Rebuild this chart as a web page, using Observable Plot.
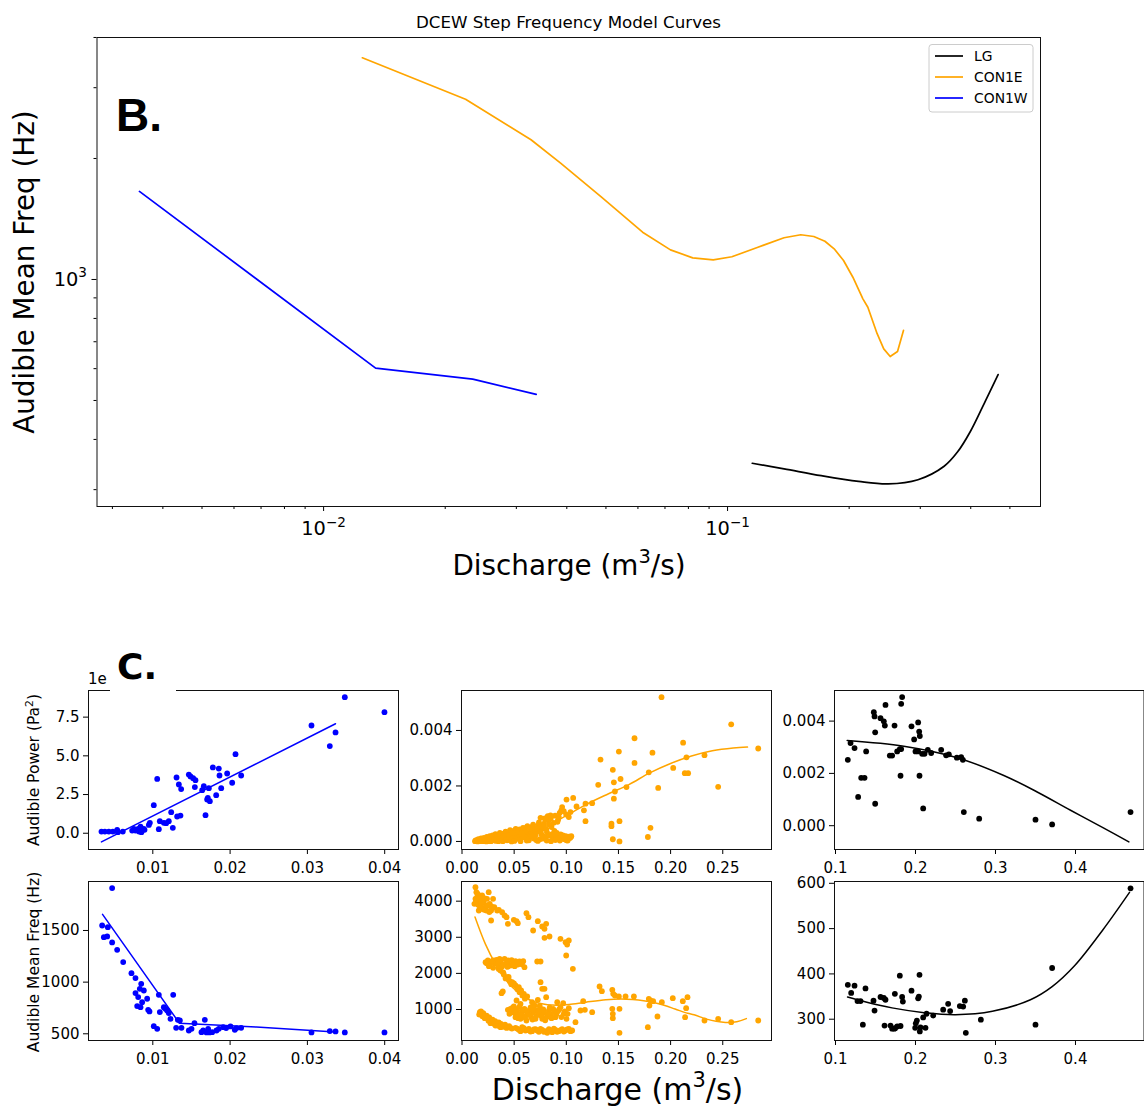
<!DOCTYPE html>
<html><head><meta charset="utf-8">
<script src="https://cdn.jsdelivr.net/npm/d3@7"></script>
<script src="https://cdn.jsdelivr.net/npm/@observablehq/plot@0.6"></script>
<style>
body{margin:0;background:#fff;}
#root{position:relative;width:1144px;height:1108px;overflow:hidden;background:#fff;}
</style></head><body><div id="root"></div>
<script>
// ---------------- text ----------------
const titleText = "DCEW Step Frequency Model Curves";
const seriesNames = ["LG", "CON1E", "CON1W"];
const seriesColors = ["black", "orange", "blue"];

// ---------------- model curves (discharge m3/s, value) ----------------
const conwFreqModel = [[0.0035,1656],[0.01345,602],[0.0234,565],[0.0336,518]];
const con1eFreqModel = [[0.01247,3561],[0.02246,2809],[0.03262,2226],[0.03861,1947],[0.04875,1602],[0.06162,1311],[0.07223,1185],[0.08199,1132],[0.09218,1119],[0.1025,1139],[0.1189,1203],[0.138,1270],[0.1518,1292],[0.1635,1279],[0.1742,1245],[0.1836,1192],[0.1937,1115],[0.2043,1013],[0.2163,895],[0.2225,853],[0.2346,733],[0.2436,672],[0.2527,643],[0.2635,662],[0.2726,747]];
const lgFreqModel = [[0.1151,349],[0.138,338],[0.1706,325],[0.211,314.5],[0.2499,310],[0.2961,317.5],[0.3437,343],[0.3708,372],[0.3988,418],[0.4341,497],[0.4675,580]];
const conwPowerModel = [[0.00336,-0.56],[0.03364,7.07]];
const con1ePowerModel = [[0.012,-0.00001],[0.03,0.00004],[0.05,0.00016],[0.065,0.00032],[0.08,0.00054],[0.1,0.00093],[0.12,0.00135],[0.14,0.00171],[0.16,0.00205],[0.18,0.00247],[0.2,0.00281],[0.22,0.00308],[0.24,0.00327],[0.26,0.00337],[0.2737,0.0034]];
const lgPowerModel = [[0.1146,0.00326],[0.1854,0.00304],[0.2521,0.0026],[0.3104,0.00192],[0.3521,0.00129],[0.3938,0.00059],[0.4354,-0.00009],[0.4667,-0.00062]];

// ---------------- observations ----------------
const conwPower = [[0.00336,0.11],[0.0038,0.11],[0.00431,0.11],[0.00483,0.11],[0.00539,0.22],[0.00548,0.07],[0.00612,0.11],[0.00733,0.17],[0.00755,0.28],[0.00776,0.17],[0.00811,0.28],[0.00822,0.11],[0.00841,0.43],[0.00853,0.07],[0.00884,0.28],[0.00893,0.22],[0.00949,0.54],[0.00962,0.67],[0.01013,1.81],[0.01057,3.51],[0.01078,0.26],[0.01091,0.78],[0.01143,0.67],[0.01173,0.65],[0.01207,0.78],[0.01238,1.36],[0.01259,0.35],[0.01307,3.6],[0.01315,1.08],[0.01337,3.15],[0.01358,1.14],[0.01367,2.85],[0.01466,3.79],[0.01488,3.67],[0.01522,3.56],[0.01552,3.43],[0.01544,2.98],[0.01639,2.78],[0.0166,3.04],[0.01682,1.17],[0.01703,2.18],[0.01712,2.29],[0.01725,2.91],[0.01738,2.07],[0.01777,4.25],[0.0182,2.46],[0.01854,4.18],[0.01863,3.73],[0.01885,2.91],[0.01962,3.86],[0.02027,3.26],[0.0207,5.11],[0.02143,3.73],[0.03053,6.96],[0.0329,5.63],[0.03364,6.51],[0.03484,8.79],[0.03997,7.82]];

const conwFreq = [[0.00345,1548],[0.00418,1532],[0.00367,1435],[0.0041,1442],[0.00474,1910],[0.00474,1384],[0.00539,1313],[0.00617,1194],[0.00724,1087],[0.00776,1039],[0.00776,894],[0.00798,768],[0.00811,855],[0.00832,935],[0.00841,758],[0.0085,984],[0.00862,806],[0.00884,919],[0.00927,839],[0.0094,732],[0.00957,716],[0.01013,574],[0.01057,548],[0.01078,877],[0.01091,710],[0.01143,758],[0.01164,742],[0.01186,726],[0.01207,700],[0.01229,645],[0.01264,877],[0.01302,558],[0.01324,635],[0.0135,629],[0.01371,558],[0.01466,532],[0.01501,548],[0.01539,603],[0.0163,516],[0.01652,532],[0.01673,635],[0.01695,513],[0.01716,548],[0.01734,513],[0.01768,516],[0.01824,532],[0.01854,548],[0.01911,564],[0.01949,555],[0.02005,571],[0.02061,539],[0.02083,555],[0.02143,558],[0.03053,513],[0.0329,526],[0.03364,523],[0.03484,513],[0.03997,513]];

const con1ePowerUpper = [[0.1913,0.0052],[0.2581,0.00422],[0.284,0.00335],[0.1654,0.00372],[0.212,0.00356],[0.1504,0.00324],[0.1328,0.00295],[0.1826,0.0032],[0.1654,0.00283],[0.2325,0.00311],[0.2152,0.00303],[0.1446,0.00258],[0.1791,0.00249],[0.2025,0.00265],[0.2136,0.00246],[0.2168,0.00246],[0.152,0.00225],[0.1456,0.00213],[0.1577,0.00196],[0.1306,0.00204],[0.1881,0.00193],[0.2456,0.00197],[0.1466,0.0018],[0.1456,0.00154],[0.1248,0.00138],[0.1184,0.00136],[0.1169,0.00112],[0.1066,0.00157],[0.1002,0.00151],[0.1098,0.00126],[0.096,0.00124],[0.0976,0.00109],[0.104,0.00106],[0.1024,0.00088],[0.0928,0.00088],[0.0849,0.00094],[0.0753,0.00085],[0.0801,0.00078],[0.1184,0.00073],[0.1433,0.00064],[0.1433,0.00055],[0.151,0.00073],[0.1807,0.00049],[0.1782,0.00016],[0.1446,0.00008],[0.151,0.0]];
const con1ePowerCluster = [[0.0125,0.00001],[0.0138,0.00003],[0.0151,0.0],[0.0163,0.00004],[0.0177,0.00002],[0.0189,0.00006],[0.0202,0.00001],[0.0216,0.00005],[0.0229,0.00008],[0.0243,0.00003],[0.0258,0.00011],[0.0271,0.00004],[0.0287,0.00015],[0.0299,0.00007],[0.0312,0.00019],[0.0326,0.00002],[0.0341,0.00012],[0.0355,0.00024],[0.0369,0.00006],[0.0384,0.00017],[0.0398,0.00028],[0.0412,0.00009],[0.0427,0.00021],[0.0441,0.00033],[0.0455,0.00005],[0.0468,0.00014],[0.0482,0.00026],[0.0497,0.00038],[0.0511,0.00008],[0.0524,0.00019],[0.0538,0.00031],[0.0552,0.00043],[0.0566,0.00012],[0.0579,0.00024],[0.0593,0.00036],[0.0607,0.00048],[0.0621,0.00003],[0.0634,0.00017],[0.0648,0.00029],[0.0662,0.00041],[0.0676,0.00053],[0.0689,0.00011],[0.0703,0.00022],[0.0717,0.00037],[0.0731,0.00058],[0.0745,0.00008],[0.0759,0.00027],[0.0773,0.00046],[0.0787,0.00064],[0.0801,0.00015],[0.0815,0.00033],[0.0829,0.00076],[0.0843,0.00021],[0.0858,0.00052],[0.0872,0.00009],[0.0886,0.00038],[0.0901,0.00018],[0.0915,0.00071],[0.093,0.00012],[0.0946,0.00025],[0.0961,0.00016],[0.0978,0.00009],[0.0995,0.00019],[0.101,0.00014],[0.1027,0.00017],[0.1043,0.00016],
[0.0148,0.00006],[0.0195,0.00009],[0.0233,0.0],[0.0262,0.00001],[0.0305,0.0001],[0.0348,0.00003],[0.0392,0.00001],[0.0436,0.00016],[0.0475,0.0],[0.0517,0.00028],[0.0561,0.00001],[0.0603,0.00022],[0.0641,0.00004],[0.0684,0.00033],[0.0727,0.00002],[0.0768,0.0001],[0.0812,0.00003],[0.0853,0.00001],[0.0895,0.00005],[0.0938,0.00003],[0.1002,0.00004],
[0.0131,0.00004],[0.0144,0.00002],[0.0157,0.00008],[0.0171,0.00001],[0.0183,0.00011],[0.0198,0.00003],[0.0211,0.00013],[0.0224,0.00002],[0.0238,0.00016],[0.0251,0.00007],[0.0266,0.00019],[0.0279,0.00001],[0.0293,0.00022],[0.0307,0.00005],[0.0321,0.00026],[0.0336,0.00014],[0.0351,0.00001],[0.0363,0.00031],[0.0377,0.00011],[0.0389,0.00003],[0.0403,0.00019],[0.0418,0.00035],[0.0432,0.00004],[0.0447,0.00024],[0.0461,0.00041],[0.0473,0.00009],[0.0488,0.00031],[0.0502,0.00002],[0.0515,0.00045],[0.0529,0.00013],[0.0544,0.00036],[0.0557,0.00006],[0.0571,0.00029],[0.0585,0.00049],[0.0598,0.00015],[0.0612,0.00034],[0.0627,0.00055],[0.0639,0.00009],[0.0655,0.00047],[0.0669,0.00019],[0.0682,0.00061],[0.0696,0.00042],[0.0711,0.00005],[0.0724,0.00049],[0.0738,0.00069],[0.0752,0.00036],[0.0766,0.00057],[0.0779,0.00019],[0.0794,0.00083],[0.0808,0.00044],[0.0822,0.00091],[0.0836,0.00061],[0.0851,0.00083],[0.0865,0.00026],[0.0879,0.00067],[0.0893,0.00093],[0.0908,0.00031],[0.0922,0.00079],[0.0937,0.00103],[0.0952,0.00112],[0.0968,0.00022],[0.0984,0.00008],[0.0999,0.00097],[0.1013,0.00003],[0.1035,0.00012],[0.1048,0.00019]];

const con1eFreqTop = [[0.0129,4388],[0.0138,4249],[0.0119,3926],[0.0145,4111],[0.0161,4018],[0.0177,3880],[0.0193,4157],[0.0208,3972],[0.0224,3834],[0.024,4065],[0.0256,4249],[0.0266,3926],[0.0279,3742],[0.0298,4065],[0.031,3834],[0.0279,3465],[0.0337,3742],[0.0161,3742],[0.0186,3788],[0.0129,4065],[0.0151,4203],[0.0234,3742],[0.0202,4037],[0.0134,3990],[0.0155,3900],[0.0168,4120],[0.0172,3810],[0.0189,3960],[0.0213,3760],[0.0219,4080],[0.0245,3880],[0.0262,3700],[0.0285,3850],
[0.0353,3760],[0.0385,3695],[0.0408,3603],[0.0427,3557],[0.044,3372],[0.0497,3483],[0.0523,3446],[0.0535,3391],[0.0618,3668],[0.0637,3557],[0.0682,3188],[0.0727,3446],[0.0769,3298],[0.0791,3234],[0.0807,3372],[0.0791,2985],[0.0839,3022],[0.0944,2957],[0.0993,2865],[0.1024,2911],[0.1008,2800],[0.0999,2495],[0.1063,2126]];
const con1eFreqMid = [[0.0226,2311],[0.0248,2357],[0.0267,2246],[0.0289,2338],[0.0312,2283],[0.0331,2375],[0.0347,2218],[0.0369,2311],[0.0385,2191],[0.0408,2403],[0.0427,2283],[0.0443,2357],[0.0465,2218],[0.0491,2311],[0.0513,2338],[0.0535,2246],[0.0561,2283],[0.0587,2338],[0.0599,2172],[0.0721,2329],[0.0753,2329],[0.0299,2154],[0.0236,2280],[0.0258,2200],[0.0302,2360],[0.0339,2280],[0.0361,2400],[0.0398,2250],[0.0437,2180],[0.0476,2370],[0.0505,2200],[0.0551,2330],[0.0574,2250],
[0.0369,2080],[0.0401,1969],[0.0433,1895],[0.0458,1785],[0.0481,1757],[0.0513,1665],[0.0545,1618],[0.0567,1526],[0.0593,1434],[0.0625,1360],[0.0753,1757],[0.0769,1572],[0.0791,1572],[0.0807,1342],[0.0379,1452],[0.0523,1249],[0.0352,2120],[0.0395,2030],[0.0418,1860],[0.0447,1900],[0.0472,1700],[0.0498,1720],[0.0531,1560],[0.0552,1480],[0.0579,1390],[0.0603,1300],[0.0391,1500]];
const con1eFreqLow = [[0.0171,926],[0.019,880],[0.021,825],[0.0229,788],[0.0248,741],[0.0267,714],[0.0286,677],[0.0305,640],[0.0325,621],[0.0344,603],[0.0363,584],[0.0382,557],[0.0401,548],[0.042,529],[0.044,511],[0.0465,492],[0.0273,622],[0.0321,557],[0.0369,511],[0.0165,860],[0.0182,950],[0.0196,810],[0.0204,900],[0.0218,760],[0.0236,830],[0.0254,690],[0.0261,780],[0.0279,650],[0.0293,720],[0.0311,600],[0.0318,680],[0.0336,560],[0.0352,640],[0.0357,540],[0.0374,600],[0.0394,520],[0.0413,580],[0.0428,490],[0.0452,540],[0.0478,470],
[0.044,991],[0.0465,1018],[0.0491,926],[0.0513,788],[0.0529,972],[0.0545,861],[0.0561,741],[0.0577,926],[0.0593,806],[0.0599,1018],[0.0618,695],[0.0631,880],[0.065,991],[0.0663,788],[0.0682,926],[0.0695,1111],[0.0705,741],[0.0721,972],[0.0737,861],[0.0753,1018],[0.0769,741],[0.0785,926],[0.081,788],[0.0833,972],[0.0849,861],[0.0874,1018],[0.0896,788],[0.0919,954],[0.0944,1065],[0.097,1175],[0.0976,880],[0.1002,741],[0.1024,1037],[0.0497,1083],[0.0672,1203],[0.0727,1268],[0.0561,1157],[0.0913,1203],[0.0455,880],[0.0472,940],[0.0486,1050],[0.0505,900],[0.0521,1010],[0.0538,760],[0.0552,1080],[0.0569,850],[0.0583,990],[0.0605,780],[0.0622,950],[0.0645,850],[0.0658,1060],[0.0676,720],[0.0689,1000],[0.0711,820],[0.0731,940],[0.0745,1100],[0.0762,820],[0.0779,1000],[0.0798,700],[0.0823,880],[0.0841,1050],[0.0858,760],[0.0882,930],[0.0904,860],[0.0932,1000],[0.0953,790],[0.0985,950],[0.1012,880],
[0.0513,492],[0.0545,437],[0.0577,511],[0.0609,418],[0.0641,465],[0.0672,400],[0.0705,455],[0.0737,381],[0.0769,437],[0.0801,400],[0.0833,455],[0.0865,372],[0.0896,437],[0.0928,400],[0.096,455],[0.0991,418],[0.1024,465],[0.1056,418],[0.0817,354],[0.0529,470],[0.0561,400],[0.0593,480],[0.0625,430],[0.0657,390],[0.0689,450],[0.0721,420],[0.0753,460],[0.0785,380],[0.0849,420],[0.0881,470],[0.0912,380],[0.0944,430],[0.0976,390],[0.1008,450],[0.104,400]];
const con1eFreqRight = [[0.1088,649],[0.1136,972],[0.1162,1231],[0.1178,991],[0.1248,926],[0.1319,1637],[0.1341,1508],[0.1441,1545],[0.145,1434],[0.1466,1388],[0.1504,1360],[0.1568,1360],[0.1648,1360],[0.151,1018],[0.1441,1018],[0.1446,880],[0.1446,760],[0.151,354],[0.1782,511],[0.1791,1295],[0.1807,1249],[0.1833,1231],[0.1797,1111],[0.1874,806],[0.1916,1203],[0.2021,1314],[0.2117,1231],[0.2149,1037],[0.2139,788],[0.2162,1342],[0.2325,695],[0.2456,742],[0.2581,649],[0.284,695]];

const lgPower = [[0.1154,0.00252],[0.1188,0.00316],[0.1238,0.00297],[0.1283,0.0011],[0.1321,0.00183],[0.1363,0.00183],[0.1383,0.00284],[0.1479,0.00434],[0.1488,0.00418],[0.1496,0.00357],[0.1496,0.00084],[0.1563,0.00411],[0.1604,0.00399],[0.1617,0.00383],[0.1625,0.00462],[0.1679,0.00268],[0.1708,0.00268],[0.1738,0.00383],[0.1771,0.00284],[0.1804,0.00293],[0.1813,0.00191],[0.1821,0.00466],[0.1833,0.00492],[0.1821,0.00293],[0.195,0.0038],[0.1983,0.0033],[0.2,0.00284],[0.2033,0.00284],[0.2033,0.00395],[0.2046,0.0036],[0.2054,0.00343],[0.205,0.00191],[0.2083,0.00275],[0.2096,0.00066],[0.2113,0.00275],[0.2154,0.0029],[0.2196,0.00278],[0.2321,0.0029],[0.2383,0.00269],[0.2417,0.00273],[0.2517,0.0026],[0.2571,0.00262],[0.2592,0.00252],[0.2604,0.00052],[0.2796,0.00027],[0.35,0.00023],[0.3708,0.00005],[0.4688,0.00052]];

const lgFreq = [[0.1154,376],[0.1196,358],[0.1238,374],[0.1275,340],[0.1313,340],[0.1342,288],[0.1375,368],[0.1475,341],[0.1488,319],[0.1563,349],[0.1604,347],[0.1625,343],[0.1613,286],[0.1688,286],[0.1708,279],[0.1771,284],[0.1813,285],[0.1733,279],[0.1746,280],[0.1742,356],[0.1804,396],[0.1833,349],[0.1842,339],[0.195,363],[0.1996,281],[0.2004,291],[0.2017,297],[0.2033,346],[0.2042,350],[0.205,398],[0.2054,273],[0.2063,282],[0.2096,304],[0.2125,281],[0.2138,312],[0.2221,308],[0.2346,321],[0.2408,334],[0.2433,318],[0.2554,329],[0.2596,328],[0.2617,341],[0.2629,270],[0.2817,299],[0.35,288],[0.3708,413],[0.4688,589]];

// ---------------- tick values ----------------
const topXMajor = [0.01, 0.1];
const topXMinor = [0.003,0.004,0.005,0.006,0.007,0.008,0.009,0.02,0.03,0.04,0.05,0.06,0.07,0.08,0.09,0.2,0.3,0.4,0.5];
const topYMajor = [1000];
const topYMinor = [300,400,500,600,700,800,900,2000,3000,4000];
const col1X = [0.01,0.02,0.03,0.04];
const col2X = [0,0.05,0.1,0.15,0.2,0.25];
const col3X = [0.1,0.2,0.3,0.4];
const aY = [0,2.5,5,7.5];
const bY = [500,1000,1500];
const cY = [0,0.002,0.004];
const dY = [0,0.002,0.004];
const eY = [1000,2000,3000,4000];
const fY = [300,400,500,600];

// ---------------- drawing ----------------
const root = document.getElementById("root");
const FONT = "DejaVu Sans";
const X = d => d[0], Y = d => d[1];

function panel(o) {
  const {L,R,T,B,ml=62,mr=6,mt=6,mb=34,fs=15,x,y,marks} = o;
  const svg = Plot.plot({
    width: ml + (R-L) + mr,
    height: mt + (B-T) + mb,
    marginLeft: ml, marginRight: mr, marginTop: mt, marginBottom: mb,
    x, y, marks,
    style: {fontFamily: FONT, fontSize: fs + "px", color: "#000", background: "none", overflow: "visible"}
  });
  svg.style.position = "absolute";
  svg.style.left = (L - ml) + "px";
  svg.style.top = (T - mt) + "px";
  svg.style.maxWidth = "none";
  root.appendChild(svg);
  return svg;
}
const ax = (ticks, fmt, size=5, pad=8) => Plot.axisX({ticks, tickFormat: fmt, tickSize: size, tickPadding: pad, label: null});
const ay = (ticks, fmt, size=5, pad=4) => Plot.axisY({ticks, tickFormat: fmt, tickSize: size, tickPadding: pad, label: null});
const frame = () => Plot.frame({stroke: "#111", strokeWidth: 1});
const f2 = d3.format(".2f"), f1 = d3.format(".1f"), f3 = d3.format(".3f"), f0 = d3.format("d");

// Top panel (log-log)
const topSvg = panel({
  L: 96.5, R: 1040, T: 37, B: 506, ml: 96.5, mr: 10, mt: 37, mb: 45, fs: 19.4,
  x: {type: "log", domain: [0.002748, 0.5953]},
  y: {type: "log", domain: [272.4, 3999.5]},
  marks: [
    ax(topXMinor, () => "", 3),
    ax(topXMajor, d => d < 0.05 ? "10^−2" : "10^−1", 5, 10),
    ay(topYMinor, () => "", 3),
    ay(topYMajor, () => "10^3", 5, 5),
    Plot.line(lgFreqModel, {x: X, y: Y, stroke: seriesColors[0], strokeWidth: 1.7, curve: "catmull-rom"}),
    Plot.line(con1eFreqModel, {x: X, y: Y, stroke: seriesColors[1], strokeWidth: 1.7}),
    Plot.line(conwFreqModel, {x: X, y: Y, stroke: seriesColors[2], strokeWidth: 1.7}),
    frame()
  ]
});
d3.select(topSvg).selectAll("text").each(function () {
  const m = /^10\^(.+)$/.exec(this.textContent);
  if (!m) return;
  const s = d3.select(this);
  s.text(null);
  s.append("tspan").text("10");
  s.append("tspan").attr("font-size", "0.7em").attr("dy", "-0.62em").text(m[1]);
});

const col1 = {L: 88, R: 398, domain: [0.001682, 0.041786], ticks: col1X, fmt: f2};
const col2 = {L: 461, R: 771, domain: [-0.00048, 0.29674], ticks: col2X, fmt: f2};
const col3 = {L: 834, R: 1143.5, domain: [0.09875, 0.48563], ticks: col3X, fmt: f1};
const row1 = {T: 690, B: 849}, row2 = {T: 881, B: 1040};

function small(col, row, yDomain, yTicks, yFmt, pts, model, color, curve) {
  panel({
    L: col.L, R: col.R, T: row.T, B: row.B, mr: col.R > 1140 ? 0.5 : 6,
    x: {domain: col.domain}, y: {domain: yDomain},
    marks: [
      ax(col.ticks, col.fmt), ay(yTicks, yFmt),
      Plot.dot(pts, {x: X, y: Y, r: 2.9, fill: color, stroke: "none"}),
      Plot.line(model, {x: X, y: Y, stroke: color, strokeWidth: 1.5, curve}),
      frame()
    ]
  });
}
small(col1, row1, [-1.05, 9.22], aY, f1, conwPower, conwPowerModel, "blue", "linear");
small(col2, row1, [-0.00029, 0.00544], cY, f3, con1ePowerCluster.concat(con1ePowerUpper), con1ePowerModel, "orange", "catmull-rom");
small(col3, row1, [-0.00091, 0.00517], dY, f3, lgPower, lgPowerModel, "black", "catmull-rom");
small(col1, row2, [435, 1974], bY, f0, conwFreq, conwFreqModel, "blue", "linear");
small(col2, row2, [141, 4545], eY, f0, con1eFreqTop.concat(con1eFreqMid, con1eFreqLow, con1eFreqRight), con1eFreqModel, "orange", "catmull-rom");
small(col3, row2, [253, 604], fY, f0, lgFreq, lgFreqModel, "black", "catmull-rom");

// ---------------- annotations overlay ----------------
const ov = d3.select(root).append("svg")
  .attr("width", 1144).attr("height", 1108)
  .style("position", "absolute").style("left", "0px").style("top", "0px")
  .style("font-family", FONT).style("pointer-events", "none");

function rich(t, parts, fs) {
  let prev = false;
  for (const [s, sup] of parts) {
    const ts = t.append("tspan").text(s);
    if (sup) ts.attr("font-size", 0.7 * fs);
    if (sup && !prev) ts.attr("dy", -0.42 * fs);
    if (!sup && prev) ts.attr("dy", 0.42 * fs);
    prev = sup;
  }
  return t;
}

ov.append("text").attr("x", 568.5).attr("y", 28).attr("text-anchor", "middle")
  .attr("font-size", 16.7).attr("fill", "#000").text(titleText);

ov.append("text").attr("transform", "translate(34,272) rotate(-90)").attr("text-anchor", "middle")
  .attr("font-size", 27.8).text("Audible Mean Freq (Hz)");
rich(ov.append("text").attr("x", 569).attr("y", 575).attr("text-anchor", "middle").attr("font-size", 27.8),
  [["Discharge (m", false], ["3", true], ["/s)", false]], 27.8);

ov.append("text").attr("x", 116).attr("y", 131).attr("font-family", "Liberation Sans")
  .attr("font-weight", "bold").attr("font-size", 46).text("B.");

// legend
const lg = ov.append("g");
lg.append("rect").attr("x", 929).attr("y", 44.5).attr("width", 104).attr("height", 67.5).attr("rx", 3)
  .attr("fill", "white").attr("fill-opacity", 0.8).attr("stroke", "#cccccc");
seriesNames.forEach((n, i) => {
  const yy = 56 + i * 21;
  lg.append("line").attr("x1", 935).attr("x2", 963).attr("y1", yy).attr("y2", yy)
    .attr("stroke", seriesColors[i]).attr("stroke-width", 1.7);
  lg.append("text").attr("x", 974).attr("y", yy).attr("dy", "0.36em").attr("font-size", 13.9).text(n);
});

// bottom block labels
ov.append("text").attr("x", 88).attr("y", 684).attr("font-size", 15).text("1e");
ov.append("rect").attr("x", 110).attr("y", 644).attr("width", 66).attr("height", 49).attr("fill", "white");
ov.append("text").attr("x", 117).attr("y", 679).attr("font-family", "DejaVu Sans")
  .attr("font-weight", "bold").attr("font-size", 36).text("C.");

rich(ov.append("text").attr("transform", "translate(39,770) rotate(-90)").attr("text-anchor", "middle").attr("font-size", 15.5),
  [["Audible Power (Pa", false], ["2", true], [")", false]], 15.5);
ov.append("text").attr("transform", "translate(39,962) rotate(-90)").attr("text-anchor", "middle")
  .attr("font-size", 15.5).text("Audible Mean Freq (Hz)");
rich(ov.append("text").attr("x", 617.5).attr("y", 1100).attr("text-anchor", "middle").attr("font-size", 30),
  [["Discharge (m", false], ["3", true], ["/s)", false]], 30);
</script></body></html>
